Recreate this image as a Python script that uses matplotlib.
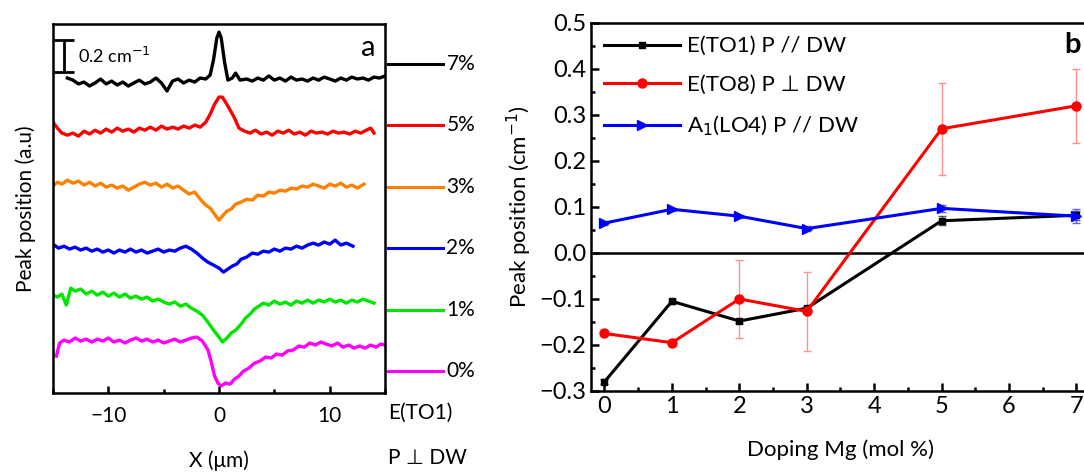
import numpy as np
import matplotlib.pyplot as plt
from matplotlib.ticker import MultipleLocator

plt.rcParams['font.family'] = ['Lato', 'DejaVu Sans']

# ---- panel a: peak shift profiles (cm-1) ----
x_7 = [-13.7,-13.2,-12.7,-12.2,-11.7,-11.2,-10.7,-10.2,-9.7,-9.2,-8.7,-8.2,-7.7,-7.2,-6.7,-6.2,-5.7,-5.2,-4.7,-4.2,
       -3.7,-3.2,-2.7,-2.2,-1.7,-1.2,-0.8,-0.5,-0.2,0.0,0.2,0.5,0.8,1.2,1.5,1.9,2.5,3.0,3.5,4.0,4.5,5.0,5.5,6.0,
       6.5,7.0,7.5,8.0,8.5,9.0,9.5,10.0,10.5,11.0,11.5,12.0,12.5,13.0,13.5,14.0,14.5,15.0]
s_7 = [0.025,0.012,-0.012,0,-0.025,-0.006,0.019,-0.012,0.006,-0.019,0,-0.025,-0.006,0.012,-0.012,0,0.025,-0.006,-0.056,0.006,
       0.019,-0.006,0.012,0,0.025,0.019,0.044,0.138,0.275,0.312,0.275,0.125,0.012,0.025,0.056,0.012,0.019,0.006,0.025,0.012,0.038,0.012,0.025,0.006,
       0.031,0.012,0.019,0.006,0.025,0.012,0.031,0.019,0.006,0.025,0.012,0.031,0.019,0.025,0.012,0.031,0.025,0.038]

x_5 = [-15.0,-14.6,-14.2,-13.7,-13.2,-12.7,-12.2,-11.7,-11.2,-10.7,-10.2,-9.7,-9.2,-8.7,-8.2,-7.7,-7.2,-6.7,-6.2,-5.7,
       -5.2,-4.7,-4.2,-3.7,-3.2,-2.7,-2.2,-1.7,-1.2,-0.8,-0.4,0.0,0.3,0.7,1.0,1.4,1.8,2.3,2.8,3.3,3.8,4.3,4.8,5.3,
       5.8,6.3,6.8,7.3,7.8,8.3,8.8,9.3,9.8,10.3,10.8,11.3,11.8,12.3,12.8,13.3,13.7,14.0]
s_5 = [0.062,0.025,-0.006,-0.019,-0.006,-0.025,0.006,-0.012,0.012,-0.006,0.019,0,0.025,0.006,0.019,0,0.025,0.012,0.031,0.012,
       0.038,0.019,0.031,0.019,0.038,0.025,0.044,0.031,0.062,0.112,0.175,0.219,0.219,0.175,0.138,0.088,0.025,0.006,-0.006,0.012,-0.012,0,-0.019,0.006,
       -0.006,0.012,-0.012,0,-0.019,0.006,-0.006,0,-0.012,0.006,-0.006,0,-0.012,0.006,-0.006,0.012,0.025,-0.006]

x_3 = [-15.0,-14.6,-14.2,-13.7,-13.2,-12.7,-12.2,-11.7,-11.2,-10.7,-10.2,-9.7,-9.2,-8.7,-8.2,-7.7,-7.2,-6.7,-6.2,-5.7,
       -5.2,-4.7,-4.2,-3.7,-3.2,-2.7,-2.2,-1.7,-1.2,-0.8,-0.4,0.0,0.3,0.7,1.1,1.5,2.0,2.5,3.0,3.5,4.0,4.5,5.0,5.5,
       6.0,6.5,7.0,7.5,8.0,8.5,9.0,9.5,10.0,10.5,11.0,11.5,12.0,12.5,13.1]
s_3 = [-0.012,0.012,0,0.025,0.006,0.019,-0.006,0.012,-0.012,0.006,-0.019,-0.006,-0.025,-0.012,-0.038,-0.019,0,0.012,-0.006,0.006,
       -0.019,0,-0.025,-0.012,-0.038,-0.062,-0.05,-0.094,-0.131,-0.15,-0.188,-0.225,-0.2,-0.169,-0.156,-0.125,-0.112,-0.094,-0.1,-0.069,-0.075,-0.05,-0.056,-0.038,
       -0.044,-0.025,-0.031,-0.012,-0.019,0,-0.012,-0.025,0,-0.012,0.006,-0.019,-0.006,-0.025,0]

x_2 = [-14.9,-14.5,-14.0,-13.5,-13.0,-12.5,-12.0,-11.5,-11.0,-10.5,-10.0,-9.5,-9.0,-8.5,-8.0,-7.5,-7.0,-6.5,-6.0,-5.5,
       -5.0,-4.5,-4.0,-3.5,-3.0,-2.5,-2.0,-1.5,-1.0,-0.5,0.0,0.4,0.8,1.2,1.6,2.0,2.5,3.0,3.5,4.0,4.5,5.0,5.5,6.0,
       6.5,7.0,7.5,8.0,8.5,9.0,9.5,10.0,10.5,11.0,11.5,12.1]
s_2 = [0.019,0,0.012,-0.006,0.006,-0.012,0,-0.019,-0.006,-0.025,-0.012,-0.031,-0.012,-0.025,-0.006,-0.025,-0.012,-0.031,-0.019,-0.006,
       -0.025,-0.012,-0.019,0,0.012,-0.006,-0.031,-0.062,-0.088,-0.106,-0.125,-0.15,-0.131,-0.112,-0.1,-0.069,-0.056,-0.031,-0.038,-0.019,-0.025,-0.006,-0.019,0,
       -0.006,0.012,0,0.019,0.031,0.019,0.038,0.025,0.05,0.019,0.031,0.012]

x_1 = [-15.0,-14.6,-14.2,-13.8,-13.4,-13.0,-12.5,-12.0,-11.5,-11.0,-10.5,-10.0,-9.5,-9.0,-8.5,-8.0,-7.5,-7.0,-6.5,-6.0,
       -5.5,-5.0,-4.5,-4.0,-3.5,-3.0,-2.5,-2.0,-1.5,-1.0,-0.5,0.0,0.3,0.7,1.1,1.5,2.0,2.4,2.8,3.2,3.6,4.0,4.5,5.0,
       5.5,6.0,6.5,7.0,7.5,8.0,8.5,9.0,9.5,10.0,10.5,11.0,11.5,12.0,12.5,13.0,13.5,14.0]
s_1 = [0.031,0.019,0.038,-0.031,0.075,0.056,0.069,0.038,0.056,0.031,0.05,0.025,0.044,0.019,0.038,0.012,0.025,0.006,0.019,-0.006,
       0.006,-0.012,-0.025,-0.012,-0.038,-0.025,-0.05,-0.069,-0.094,-0.138,-0.188,-0.231,-0.262,-0.238,-0.206,-0.188,-0.15,-0.112,-0.088,-0.056,-0.038,-0.019,-0.031,-0.006,
       -0.025,-0.012,-0.031,-0.006,-0.019,0,-0.019,0,-0.012,0.006,-0.012,0,-0.019,0,-0.012,0.006,-0.006,-0.019]

x_0 = [-14.7,-14.4,-14.0,-13.5,-13.0,-12.5,-12.0,-11.5,-11.0,-10.5,-10.0,-9.5,-9.0,-8.5,-8.0,-7.5,-7.0,-6.5,-6.0,-5.5,
       -5.0,-4.5,-4.0,-3.5,-3.0,-2.5,-2.0,-1.5,-1.0,-0.7,-0.4,-0.1,0.2,0.6,1.0,1.4,1.8,2.2,2.7,3.2,3.7,4.2,4.7,5.2,
       5.7,6.2,6.7,7.2,7.7,8.2,8.7,9.2,9.7,10.2,10.7,11.2,11.7,12.2,12.7,13.2,13.7,14.2,14.6,15.0]
s_0 = [-0.094,-0.012,0.006,-0.006,0.019,0,0.012,-0.006,0.012,0,0.019,-0.006,0.006,-0.012,0.006,0.019,0,0.012,-0.006,0.006,
       -0.012,0,0.012,-0.006,0.006,0.019,0.025,0,-0.056,-0.131,-0.219,-0.262,-0.281,-0.262,-0.269,-0.238,-0.219,-0.188,-0.169,-0.138,-0.125,-0.1,-0.106,-0.081,
       -0.088,-0.062,-0.056,-0.031,-0.038,-0.012,-0.025,-0.006,-0.019,-0.031,-0.012,-0.038,-0.025,-0.044,-0.031,-0.044,-0.025,-0.038,-0.019,-0.025]

labels_a = ['7%', '5%', '3%', '2%', '1%', '0%']
colors_a = ['black', 'red', '#ff8000', 'blue', '#00e600', '#ff00ff']
offsets_a = [1.944, 1.631, 1.306, 0.906, 0.581, 0.325]   # vertical stacking in cm-1
traces = [(x_7, s_7), (x_5, s_5), (x_3, s_3), (x_2, s_2), (x_1, s_1), (x_0, s_0)]

# ---- panel b ----
doping = [0, 1, 2, 3, 5, 7]
to1 = [-0.28, -0.105, -0.148, -0.12, 0.07, 0.082]
to1_err = [0.005, 0.005, 0.005, 0.005, 0.01, 0.01]
to8 = [-0.175, -0.195, -0.10, -0.127, 0.27, 0.32]
to8_err = [0.0, 0.0, 0.085, 0.085, 0.10, 0.08]
lo4 = [0.065, 0.095, 0.08, 0.053, 0.097, 0.08]
lo4_err = [0.005, 0.003, 0.003, 0.005, 0.008, 0.015]

fig = plt.figure(figsize=(10.84, 4.73), dpi=100)

# ---------- a ----------
ax1 = fig.add_axes([0.0489, 0.169, 0.3063, 0.780])
for (xx, ss), c, off in zip(traces, colors_a, offsets_a):
    ax1.plot(xx, np.array(ss) + off, color=c, lw=2.4)
ax1.set_xlim(-15, 15)
ax1.set_ylim(0, 2.306)
ax1.set_yticks([])
ax1.xaxis.set_major_locator(MultipleLocator(10))
ax1.xaxis.set_minor_locator(MultipleLocator(5))
ax1.tick_params(axis='x', which='both', direction='in', top=False, labelsize=15, pad=9)
ax1.tick_params(axis='x', which='major', length=5, width=1.8)
ax1.tick_params(axis='x', which='minor', length=3, width=1.8)
for sp in ax1.spines.values():
    sp.set_linewidth(1.8)
ax1.set_xlabel('X (\u03bcm)', fontsize=15, labelpad=18)
ax1.set_ylabel('Peak position (a.u)', fontsize=15, labelpad=12)
ax1.text(0.95, 0.935, 'a', transform=ax1.transAxes, fontsize=21, ha='center', va='center')

# scale bar 0.2 cm-1
ax1.errorbar([-14.0], [2.106], yerr=[0.1], color='black', lw=2, capsize=7, capthick=2)
ax1.text(-12.7, 2.106, '0.2 cm$^{-1}$', fontsize=13, va='center')

# side legend
for i, (lab, c) in enumerate(zip(labels_a, colors_a)):
    yy = 0.892 - i * 0.1664
    ax1.plot([1.009, 1.175], [yy, yy], color=c, lw=2.2, transform=ax1.transAxes, clip_on=False)
    ax1.text(1.185, yy, lab, transform=ax1.transAxes, fontsize=15, va='center')
ax1.text(1.01, -0.055, 'E(TO1)', transform=ax1.transAxes, fontsize=15, va='center')
ax1.text(1.01, -0.175, 'P \u22a5 DW', transform=ax1.transAxes, fontsize=15, va='center')

# ---------- b ----------
ax2 = fig.add_axes([0.5452, 0.1734, 0.4603, 0.778])
ax2.axhline(0, color='black', lw=1.8)
ax2.errorbar(doping, to1, yerr=to1_err, fmt='none', ecolor='#555555', elinewidth=1, capsize=3)
ax2.errorbar(doping, to8, yerr=to8_err, fmt='none', ecolor='#ff9090', elinewidth=1, capsize=3)
ax2.errorbar(doping, lo4, yerr=lo4_err, fmt='none', ecolor='#6060ff', elinewidth=1, capsize=3)
ax2.plot(doping, to1, color='black', marker='s', ms=5, lw=2.2, label='E(TO1) P // DW')
ax2.plot(doping, to8, color='red', marker='o', ms=6.5, lw=2.2, label='E(TO8) P \u22a5 DW')
ax2.plot(doping, lo4, color='blue', marker='>', ms=7.5, lw=2.2, label='A$_1$(LO4) P // DW')
ax2.set_xlim(-0.2, 7.2)
ax2.set_ylim(-0.3, 0.5)
ax2.xaxis.set_major_locator(MultipleLocator(1))
ax2.xaxis.set_minor_locator(MultipleLocator(0.5))
ax2.yaxis.set_major_locator(MultipleLocator(0.1))
ax2.yaxis.set_minor_locator(MultipleLocator(0.05))
ax2.tick_params(which='both', direction='in', top=False, right=False, labelsize=17)
ax2.tick_params(which='major', length=6, width=1.8)
ax2.tick_params(which='minor', length=3, width=1.8)
for sp in ax2.spines.values():
    sp.set_linewidth(1.8)
ax2.set_xlabel('Doping Mg (mol %)', fontsize=16, labelpad=16)
ax2.set_ylabel('Peak position (cm$^{-1}$)', fontsize=16, labelpad=4)
ax2.text(0.965, 0.94, 'b', transform=ax2.transAxes, fontsize=21, fontweight='bold',
         ha='center', va='center')
leg = ax2.legend(loc='upper left', frameon=False, fontsize=16, handlelength=3.4,
                 handletextpad=0.3, borderaxespad=0.2, labelspacing=0.85)

fig.savefig('out.png', dpi=100)
